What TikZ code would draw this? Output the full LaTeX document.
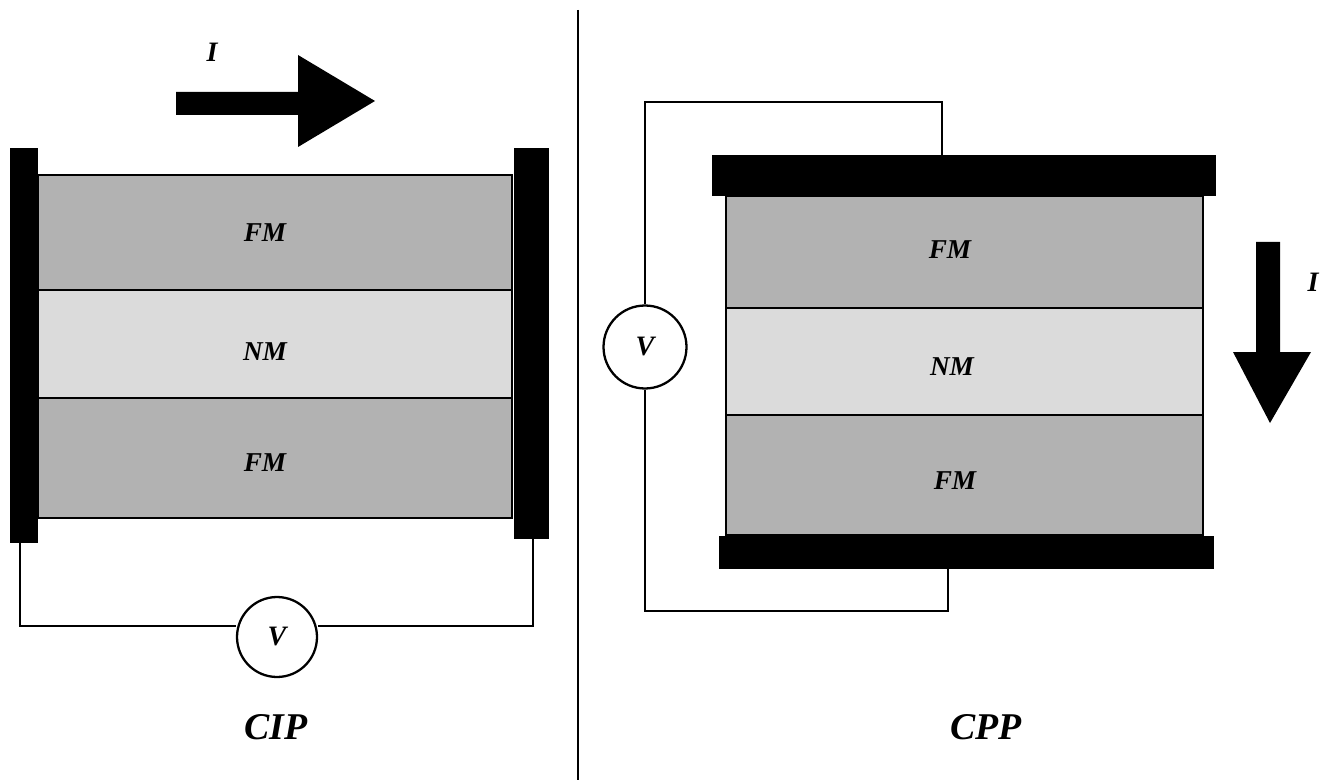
\documentclass[tikz,border=0pt]{standalone}
\usepackage{fontspec}
\setmainfont{Liberation Serif}
\usetikzlibrary{positioning}

\begin{document}
\begin{tikzpicture}[
        x=0.02cm, y=-0.02cm,
        fm/.style={draw=black, line width=1.3pt, fill=black!30},
        nm/.style={draw=black, line width=1.3pt, fill=black!14},
        electrode/.style={fill=black},
        wire/.style={draw=black, line width=1.1pt},
        meter/.style={
        circle, draw=black, line width=1.3pt,
        inner sep=0pt, minimum size=1.6cm,
        fill=white, font=\fontsize{16}{18}\selectfont\bfseries\itshape},
        tag/.style={font=\fontsize{15.5}{18}\selectfont\bfseries\itshape},
        title/.style={font=\fontsize{21.5}{24}\selectfont\bfseries\itshape},
        ]
        \useasboundingbox (0,0) rectangle (1321,780);

        % divider
        \draw [line width=1.1pt] (578,10) -- (578,780);

        % CIP: layers and side contacts
        \draw [fm] (38,175) rectangle (512,290);
        \draw [nm] (38,290) rectangle (512,398);
        \draw [fm] (38,398) rectangle (512,518);
        \fill [electrode] (10,148) rectangle (38,543);
        \fill [electrode] (514,148) rectangle (549,539);
        \node [tag] (cipfm1) at (265,233){FM};
        \node [tag] (cipnm) at (265,352){NM};
        \node [tag] (cipfm2) at (265,463){FM};

        \coordinate (cipa) at (20,543);
        \coordinate (cipb) at (533,539);
        \node (cipv) [meter] at (277,637){V};
        \draw [wire] (cipa) |- (cipv.west |- 0,626) (cipv.east |- 0,626) -| (cipb);
        \node [title] (cip) at (276,727){CIP};

        % CIP current
        \fill (176,92) -- (298,92) -- (298,55) -- (375,101) -- (298,147)
            -- (298,115) -- (176,115) -- cycle;
        \node [font=\fontsize{16}{18}\selectfont\bfseries\itshape] (cipi) at (212,52){I};

        % CPP: layers and top/bottom contacts
        \draw [fm] (726,196) rectangle (1203,308);
        \draw [nm] (726,308) rectangle (1203,415);
        \draw [fm] (726,415) rectangle (1203,535);
        \fill [electrode] (712,155) rectangle (1216,196);
        \fill [electrode] (719,536) rectangle (1214,569);
        \node [tag] (cppfm1) at (950,250){FM};
        \node [tag] (cppnm) at (952,367){NM};
        \node [tag] (cppfm2) at (955,481){FM};

        \coordinate (cppa) at (942,155);
        \coordinate (cppb) at (948,569);
        \node (cppv) [meter, minimum size=1.66cm] at (645,347){V};
        \draw [wire] (cppa) |- (645,102) -- (cppv.north);
        \draw [wire] (cppv.south) -- (645,611) -| (cppb);
        \node [title] (cpp) at (986,727){CPP};

        % CPP current
        \fill (1256,242) -- (1280,242) -- (1280,352) -- (1311,352) -- (1270,423)
            -- (1233,352) -- (1256,352) -- cycle;
        \node [font=\fontsize{16}{18}\selectfont\bfseries\itshape] (cppi) at (1313,282){I};
\end{tikzpicture}
\end{document}
